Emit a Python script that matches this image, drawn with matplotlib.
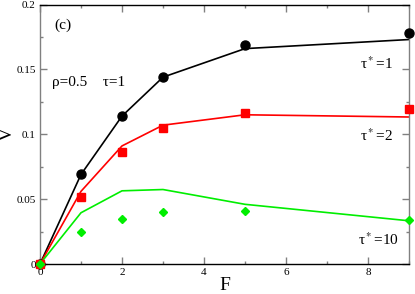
import matplotlib
matplotlib.use("Agg")
import matplotlib.pyplot as plt
from matplotlib.ticker import MultipleLocator

plt.rcParams['font.family'] = ['Liberation Serif', 'DejaVu Serif']
plt.rcParams['mathtext.fontset'] = 'stix'

F = [0, 1, 2, 3, 5, 9]
# symbols (data)
v_tau1_pts = [0, 0.069, 0.114, 0.144, 0.169, 0.178]
v_tau2_pts = [0, 0.052, 0.086, 0.1046, 0.116, 0.1197]
v_tau10_pts = [0, 0.025, 0.035, 0.040, 0.041, 0.034]
# lines (theory)
v_tau1_line = [0, 0.069, 0.114, 0.144, 0.166, 0.173]
v_tau2_line = [0, 0.056, 0.091, 0.107, 0.115, 0.1133]
v_tau10_line = [0, 0.0395, 0.0564, 0.0574, 0.046, 0.0333]

xticks = [0, 2, 4, 6, 8]
yticks = [0, 0.05, 0.1, 0.15, 0.2]
yticklabels = ['0', '0.05', '0.1', '0.15', '0.2']

fig = plt.figure(figsize=(4.15, 2.94), dpi=100)
ax = fig.add_axes([40/415, 30/294, 369/415, 259.5/294])

ax.plot(F, v_tau1_line, color='black', lw=1.2)
ax.plot(F, v_tau2_line, color='#ff0000', lw=1.2)
ax.plot(F, v_tau10_line, color='#00ee00', lw=1.2)
ax.plot(F, v_tau1_pts, 'o', color='black', ms=6.5, clip_on=False, zorder=5)
ax.plot(F, v_tau2_pts, 's', color='#ff0000', ms=5.5, clip_on=False, zorder=5)
ax.plot(F, v_tau10_pts, 'D', color='#00ee00', ms=4.5, clip_on=False, zorder=5)

ax.set_xlim(0, 9.0)
ax.set_ylim(0, 0.2)
ax.set_xticks(xticks)
ax.set_yticks(yticks)
ax.set_yticklabels(yticklabels)
ax.xaxis.set_minor_locator(MultipleLocator(1))
ax.yaxis.set_minor_locator(MultipleLocator(0.025))
ax.tick_params(which='both', direction='in', top=True, right=True,
               labelsize=8, color='#808080', pad=3)
ax.tick_params(which='major', length=5, width=1)
ax.tick_params(which='minor', length=2.5, width=1)
for s in ['left', 'right']:
    ax.spines[s].set_color('#808080')
for s in ['top', 'bottom']:
    ax.spines[s].set_color('black')
for s in ax.spines.values():
    s.set_linewidth(1)

ax.set_xlabel('F', fontsize=14)
ax.set_ylabel('V', fontsize=14)
ax.xaxis.set_label_coords(0.5, -0.052)
ax.yaxis.set_label_coords(-0.066, 0.5)

ax.text(0.55, 0.184, '(c)', fontsize=11, ha='center', va='center')
ax.text(0.30, 0.1395, 'ρ=0.5    τ=1', fontsize=11, ha='left', va='center')
ax.text(7.8, 0.154, r'τ$^*$=1', fontsize=11, ha='left', va='center')
ax.text(7.8, 0.099, r'τ$^*$=2', fontsize=11, ha='left', va='center')
ax.text(7.75, 0.0185, r'τ$^*$=10', fontsize=11, ha='left', va='center')

fig.savefig('out.png', dpi=100)
